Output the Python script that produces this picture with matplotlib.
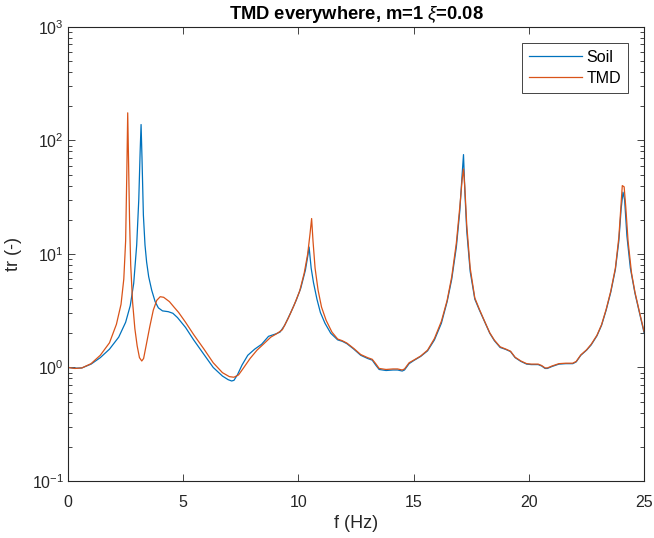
import matplotlib
matplotlib.use("Agg")
import matplotlib.pyplot as plt
from matplotlib.ticker import LogLocator, NullFormatter

plt.rcParams['font.family'] = ['Liberation Sans', 'DejaVu Sans']
plt.rcParams['mathtext.fontset'] = 'custom'
plt.rcParams['mathtext.rm'] = 'Liberation Sans'
plt.rcParams['mathtext.it'] = 'Liberation Sans:italic'
plt.rcParams['mathtext.bf'] = 'Liberation Sans:bold'

# Transmissibility of the soil column
f_soil = [0, 0.3, 0.6, 1.0, 1.4, 1.8, 2.2, 2.5, 2.7, 2.85, 2.98, 3.07, 3.13, 3.17,
          3.21, 3.27, 3.34, 3.41, 3.5, 3.63, 3.78, 3.92, 4.1, 4.35, 4.55, 4.75, 5.1,
          5.45, 5.9, 6.3, 6.7, 6.95, 7.1, 7.2, 7.35, 7.55, 7.8, 8.1, 8.4, 8.7, 9.0,
          9.2, 9.4, 9.65, 9.9, 10.1, 10.3, 10.4, 10.46, 10.55, 10.65, 10.8, 10.95,
          11.15, 11.4, 11.7, 11.9, 12.1, 12.4, 12.7, 13.0, 13.2, 13.35, 13.5, 13.8,
          14.1, 14.3, 14.5, 14.6, 14.8, 15.0, 15.3, 15.6, 15.9, 16.2, 16.45, 16.65,
          16.85, 17.0, 17.1, 17.16, 17.22, 17.3, 17.45, 17.65, 17.85, 18.05, 18.3,
          18.5, 18.75, 19.0, 19.2, 19.4, 19.65, 19.9, 20.1, 20.4, 20.55, 20.7, 20.8,
          21.0, 21.3, 21.6, 21.9, 22.05, 22.25, 22.5, 22.7, 22.95, 23.15, 23.35,
          23.55, 23.75, 23.9, 24.0, 24.08, 24.15, 24.25, 24.4, 24.6, 24.8, 25.0]
tr_soil = [1.0, 0.985, 0.99, 1.07, 1.22, 1.45, 1.85, 2.5, 3.5, 5.5, 12, 30, 80, 138,
           70, 22, 12, 8.5, 6.3, 4.8, 3.8, 3.35, 3.15, 3.1, 3.0, 2.75, 2.25,
           1.75, 1.3, 1.0, 0.84, 0.78, 0.76, 0.77, 0.86, 1.05, 1.28, 1.45, 1.6, 1.88, 1.97,
           2.05, 2.35, 3.0, 3.9, 5.0, 7.2, 9.5, 11.5, 7.5, 5.6, 4.0, 3.05,
           2.45, 2.0, 1.75, 1.7, 1.62, 1.45, 1.28, 1.2, 1.16, 1.05, 0.96, 0.94,
           0.95, 0.95, 0.93, 0.95, 1.08, 1.15, 1.25, 1.4, 1.75, 2.45, 3.8, 6.0,
           11.5, 24, 50, 75, 35, 16, 7.0, 4.0, 3.2, 2.6, 2.0,
           1.72, 1.5, 1.44, 1.38, 1.22, 1.13, 1.07, 1.06, 1.06, 1.03, 0.98, 0.98,
           1.02, 1.07, 1.08, 1.08, 1.12, 1.28, 1.42, 1.58, 1.9, 2.35, 3.2,
           4.6, 7.3, 13, 25, 35, 30, 14.4, 7.5, 4.5, 3.0, 2.0]

# Transmissibility with the tuned mass damper
f_tmd = [0, 0.3, 0.6, 1.0, 1.4, 1.8, 2.1, 2.3, 2.42, 2.5, 2.55, 2.59, 2.63, 2.67,
         2.72, 2.8, 2.9, 3.0, 3.1, 3.2, 3.28, 3.4, 3.55, 3.7, 3.85, 4.0, 4.15, 4.4,
         4.6, 4.8, 5.1, 5.45, 5.9, 6.3, 6.7, 7.0, 7.2, 7.4, 7.6, 7.9, 8.2, 8.5, 8.8,
         9.05, 9.3, 9.55, 9.8, 10.05, 10.25, 10.4, 10.5, 10.57, 10.63, 10.72, 10.85,
         11.0, 11.2, 11.45, 11.7, 11.9, 12.1, 12.4, 12.7, 13.0, 13.2, 13.35, 13.5,
         13.8, 14.1, 14.3, 14.5, 14.6, 14.8, 15.0, 15.3, 15.6, 15.9, 16.2, 16.45,
         16.65, 16.85, 17.0, 17.1, 17.16, 17.22, 17.3, 17.45, 17.65, 17.85, 18.05,
         18.3, 18.5, 18.75, 19.0, 19.2, 19.4, 19.65, 19.9, 20.1, 20.4, 20.55, 20.7,
         20.8, 21.0, 21.3, 21.6, 21.9, 22.05, 22.25, 22.5, 22.7, 22.95, 23.15, 23.35,
         23.55, 23.75, 23.9, 24.0, 24.05, 24.13, 24.2, 24.3, 24.45, 24.6, 24.8, 25.0]
tr_tmd = [1.0, 0.98, 0.99, 1.08, 1.28, 1.65, 2.4, 3.6, 6.0, 13, 50, 175, 60, 20,
          8.0, 3.8, 2.2, 1.55, 1.22, 1.14, 1.2, 1.6, 2.3, 3.2, 3.9, 4.2, 4.15, 3.8,
          3.4, 3.05, 2.5, 1.95, 1.45, 1.1, 0.9, 0.83, 0.82, 0.86, 0.98, 1.2, 1.42, 1.62, 1.85,
          1.98, 2.15, 2.7, 3.5, 4.7, 6.8, 10, 15, 20.5, 13, 7.5, 4.8,
          3.4, 2.6, 2.05, 1.78, 1.72, 1.64, 1.47, 1.3, 1.22, 1.18, 1.08, 0.98,
          0.96, 0.97, 0.97, 0.95, 0.97, 1.1, 1.16, 1.26, 1.42, 1.8, 2.55, 3.9,
          6.3, 12.5, 26, 45, 56, 38, 18, 7.5, 4.1, 3.25, 2.62,
          2.02, 1.74, 1.52, 1.45, 1.39, 1.23, 1.14, 1.08, 1.07, 1.07, 1.04, 0.99,
          0.99, 1.03, 1.08, 1.09, 1.09, 1.13, 1.29, 1.43, 1.6, 1.92, 2.38, 3.25,
          4.7, 7.5, 14, 28, 40, 39, 26, 13, 6.8, 4.6, 3.05, 2.05]

x_ticks = [0, 5, 10, 15, 20, 25]

fig = plt.figure(figsize=(6.54, 5.38), dpi=100)
ax = fig.add_axes([0.104, 0.106, 0.881, 0.844])

ax.plot(f_soil, tr_soil, color='#0072BD', lw=0.9, label='Soil')
ax.plot(f_tmd, tr_tmd, color='#D95319', lw=0.9, label='TMD')

ax.set_yscale('log')
ax.set_xlim(0, 25)
ax.set_ylim(0.1, 1000)
ax.set_xticks(x_ticks)
ax.yaxis.set_major_locator(LogLocator(base=10, numticks=10))
ax.yaxis.set_minor_locator(LogLocator(base=10, subs=range(2, 10), numticks=20))
ax.yaxis.set_minor_formatter(NullFormatter())

text_col = '#262626'
for side in ax.spines.values():
    side.set_color(text_col)
    side.set_linewidth(0.8)
ax.tick_params(which='both', direction='in', top=True, right=True,
               colors=text_col, labelsize=11.5, width=0.6)
ax.tick_params(which='major', length=5)
ax.tick_params(which='minor', length=3)
ax.tick_params(axis='x', pad=10)
ax.tick_params(axis='y', pad=3)

ax.set_xlabel('f (Hz)', fontsize=13, color=text_col, labelpad=4)
ax.set_ylabel('tr (-)', fontsize=13, color=text_col, labelpad=7)
ax.set_title(r'TMD everywhere, m=1 $\xi$=0.08', fontsize=13.2,
             fontweight='bold', color='black', pad=6)

leg = ax.legend(loc='upper right', fontsize=11.5, fancybox=False,
                framealpha=1, edgecolor=text_col, borderaxespad=1.0,
                handlelength=3.3, handletextpad=0.3, borderpad=0.45,
                labelspacing=0.35)
leg.get_frame().set_linewidth(0.6)

fig.savefig('out.png', dpi=100)
